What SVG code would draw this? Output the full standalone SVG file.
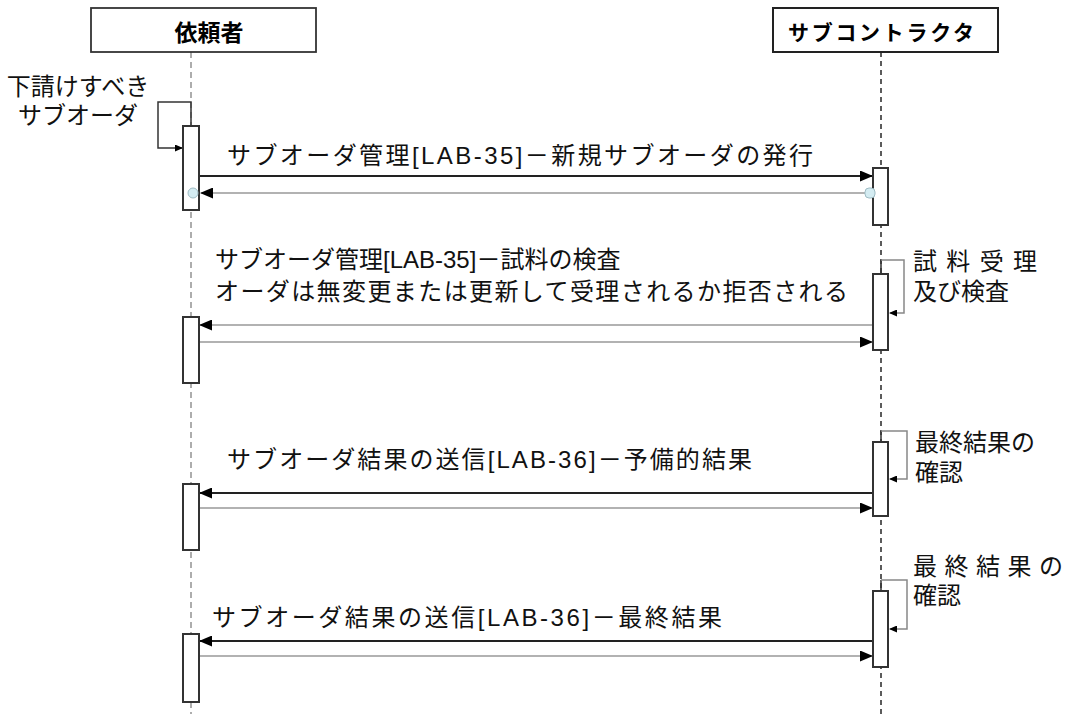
<svg xmlns="http://www.w3.org/2000/svg" width="1066" height="714" viewBox="0 0 1066 714">
<style>
.hdr{fill:#fff;stroke:#333;stroke-width:1.8}
.ht{font-family:"Noto Sans CJK JP",sans-serif;font-weight:bold;fill:#000}
.t{font-family:"Liberation Sans","Noto Sans CJK JP",sans-serif;font-size:24px;fill:#111}
.bar{fill:#fff;stroke:#333;stroke-width:2}
.fw{stroke:#222;stroke-width:2;fill:none}
.gy{stroke:#999;stroke-width:1.6;fill:none}
.dk{stroke:#333;stroke-width:1.5;fill:none}
.lg{stroke:#888;stroke-width:1.5;fill:none}
.dot{fill:#d4ecf2;stroke:#9fbcc4;stroke-width:1}
</style>
<defs>
<marker id="ah" markerUnits="userSpaceOnUse" markerWidth="13" markerHeight="11" refX="12" refY="5.5" orient="auto"><path d="M0,0 L13,5.5 L0,11 z" fill="#000"/></marker>
<marker id="as" markerUnits="userSpaceOnUse" markerWidth="8" markerHeight="7" refX="7" refY="3.5" orient="auto"><path d="M0,0 L8,3.5 L0,7 z" fill="#000"/></marker>
</defs>
<rect width="1066" height="714" fill="#fff"/>

<g id="lifelines">
<line x1="191" y1="52" x2="191" y2="714" stroke="#999" stroke-width="1.6" stroke-dasharray="6 4"/>
<line x1="881" y1="52" x2="881" y2="714" stroke="#333" stroke-width="1.6" stroke-dasharray="5 4"/>
</g>

<g id="requester">
<rect class="hdr" x="91" y="8" width="225" height="44"/>
<text class="ht" x="209" y="41" font-size="23" text-anchor="middle">依頼者</text>
</g>
<g id="subcontractor">
<rect class="hdr" x="773" y="8" width="225" height="44" style="stroke:#222;stroke-width:2"/>
<text class="ht" x="881" y="40" font-size="21" text-anchor="middle" textLength="186" lengthAdjust="spacing">サブコントラクタ</text>
</g>

<g id="connectors">
<path class="dk" d="M191,126 V102 H158 V148 H182" marker-end="url(#as)"/>
<line class="fw" x1="199" y1="176" x2="872" y2="176" marker-end="url(#ah)"/>
<line class="gy" x1="868" y1="193" x2="201" y2="193" marker-end="url(#ah)"/>
<path class="dk" d="M881,274 V260"/>
<path class="lg" d="M881,260 H904 V313 H890" marker-end="url(#as)"/>
<line class="gy" x1="873" y1="325" x2="200" y2="325" marker-end="url(#ah)"/>
<line class="gy" x1="199" y1="342" x2="872" y2="342" marker-end="url(#ah)"/>
<path class="dk" d="M881,442 V431"/>
<path class="lg" d="M881,431 H907 V479 H890" marker-end="url(#as)"/>
<line class="fw" x1="873" y1="493" x2="200" y2="493" marker-end="url(#ah)"/>
<line class="gy" x1="199" y1="508" x2="872" y2="508" marker-end="url(#ah)"/>
<path class="dk" d="M881,591 V580"/>
<path class="lg" d="M881,580 H907 V629 H890" marker-end="url(#as)"/>
<line class="fw" x1="873" y1="641" x2="200" y2="641" marker-end="url(#ah)"/>
<line class="gy" x1="199" y1="656" x2="872" y2="656" marker-end="url(#ah)"/>
</g>

<g id="activations">
<rect class="bar" x="183" y="126" width="16" height="84"/>
<rect class="bar" x="873" y="168" width="15" height="57"/>
<rect class="bar" x="873" y="274" width="15" height="76"/>
<rect class="bar" x="183" y="317" width="16" height="66"/>
<rect class="bar" x="873" y="442" width="15" height="74"/>
<rect class="bar" x="183" y="484" width="16" height="66"/>
<rect class="bar" x="873" y="591" width="15" height="76"/>
<rect class="bar" x="183" y="634" width="16" height="68"/>
<circle class="dot" cx="193" cy="193" r="5"/>
<rect class="dot" x="865" y="188" width="10" height="10" rx="4"/>
</g>

<g id="labels">
<text class="t" x="78" y="95" font-size="23" text-anchor="middle">下請けすべき</text>
<text class="t" x="78" y="124" font-size="23" text-anchor="middle">サブオーダ</text>
<text class="t" x="227" y="164" textLength="586" lengthAdjust="spacing">サブオーダ管理[LAB-35]－新規サブオーダの発行</text>
<text class="t" x="215" y="268">サブオーダ管理[LAB-35]－試料の検査</text>
<text class="t" x="215" y="300" textLength="633" lengthAdjust="spacing">オーダは無変更または更新して受理されるか拒否される</text>
<text class="t" x="913" y="270" textLength="124" lengthAdjust="spacing">試 料 受 理</text>
<text class="t" x="913" y="300">及び検査</text>
<text class="t" x="227" y="468" textLength="525" lengthAdjust="spacing">サブオーダ結果の送信[LAB-36]－予備的結果</text>
<text class="t" x="915" y="451">最終結果の</text>
<text class="t" x="915" y="481">確認</text>
<text class="t" x="212" y="626" textLength="510" lengthAdjust="spacing">サブオーダ結果の送信[LAB-36]－最終結果</text>
<text class="t" x="913" y="575" textLength="150" lengthAdjust="spacing">最 終 結 果 の</text>
<text class="t" x="913" y="604">確認</text>
</g>
</svg>
